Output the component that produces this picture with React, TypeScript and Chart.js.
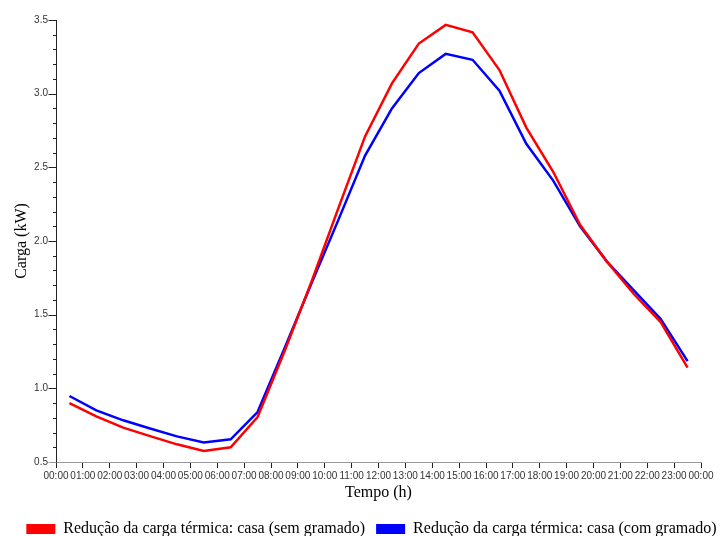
import React, { useEffect, useRef } from "react";
import { Chart, registerables } from "chart.js";

Chart.register(...registerables);

const hours = [0.5, 1.5, 2.5, 3.5, 4.5, 5.5, 6.5, 7.5, 8.5, 9.5, 10.5, 11.5, 12.5, 13.5, 14.5, 15.5, 16.5, 17.5, 18.5, 19.5, 20.5, 21.5, 22.5, 23.5];

const semGramado = [0.9, 0.81, 0.733, 0.676, 0.62, 0.575, 0.6, 0.805, 1.25, 1.72, 2.22, 2.71, 3.07, 3.34, 3.467, 3.417, 3.16, 2.77, 2.47, 2.11, 1.86, 1.64, 1.45, 1.14];

const comGramado = [0.948, 0.85, 0.783, 0.727, 0.674, 0.632, 0.654, 0.839, 1.27, 1.71, 2.14, 2.58, 2.9, 3.14, 3.27, 3.23, 3.02, 2.66, 2.41, 2.1, 1.86, 1.665, 1.47, 1.185];

const tickLabels = ["00:00", "01:00", "02:00", "03:00", "04:00", "05:00", "06:00", "07:00", "08:00", "09:00", "10:00", "11:00", "12:00", "13:00", "14:00", "15:00", "16:00", "17:00", "18:00", "19:00", "20:00", "21:00", "22:00", "23:00", "00:00"];

const seriesNames = ["Redução da carga térmica: casa (sem gramado)", "Redução da carga térmica: casa (com gramado)"];

const isMajor = (v: number) => Math.abs(v * 2 - Math.round(v * 2)) < 1e-6;

const yTicksPlugin = {
  id: "yTicksPlugin",
  afterDraw(chart: any) {
    const y = chart.scales.y;
    const ctx = chart.ctx;
    const x0 = Math.round(chart.chartArea.left) + 0.5;
    ctx.save();
    ctx.lineWidth = 1;
    for (const t of y.ticks) {
      const py = Math.round(y.getPixelForValue(t.value)) + 0.5;
      const len = isMajor(t.value) ? 8 : 3.5;
      ctx.strokeStyle = Math.abs(t.value - y.min) < 1e-6 ? "#999" : "#222";
      ctx.beginPath();
      ctx.moveTo(x0 - len, py);
      ctx.lineTo(x0, py);
      ctx.stroke();
    }
    ctx.restore();
  },
};

export default function App() {
  const ref = useRef<HTMLCanvasElement | null>(null);
  useEffect(() => {
    if (!ref.current) return;
    const chart = new Chart(ref.current, {
      type: "line",
      data: {
        datasets: [
          {
            label: seriesNames[0],
            data: hours.map((h, i) => ({ x: h, y: semGramado[i] })),
            borderColor: "#ff0000",
            backgroundColor: "#ff0000",
            borderWidth: 2.5,
            pointRadius: 0,
            tension: 0,
            yAxisID: "y",
          },
          {
            label: seriesNames[1],
            data: hours.map((h, i) => ({ x: h, y: comGramado[i] })),
            borderColor: "#0000ff",
            backgroundColor: "#0000ff",
            borderWidth: 2.5,
            pointRadius: 0,
            tension: 0,
            yAxisID: "y",
          },
        ],
      },
      options: {
        animation: false,
        responsive: true,
        maintainAspectRatio: false,
        layout: { padding: { top: 20, left: 15, right: 0, bottom: -11 } },
        plugins: {
          tooltip: { enabled: false },
          legend: {
            position: "bottom",
            labels: {
              boxWidth: 29,
              boxHeight: 10,
              padding: 11,
              color: "#000",
              font: { family: "'Liberation Serif', serif", size: 16 },
              generateLabels: (c: any) =>
                (Chart.defaults.plugins.legend.labels as any).generateLabels(c).map((l: any) => ({
                  ...l,
                  lineWidth: 0,
                  fillStyle: l.strokeStyle,
                })),
            },
          },
        },
        scales: {
          x: {
            type: "linear",
            min: 0,
            max: 24,
            afterFit: (s: any) => {
              s.height = 48;
            },
            ticks: {
              stepSize: 1,
              autoSkip: false,
              maxRotation: 0,
              minRotation: 0,
              padding: 2,
              color: "#333",
              font: { family: "'Liberation Sans', Arial, sans-serif", size: 10 },
              callback: (v: any) => tickLabels[Math.round(Number(v))] ?? "",
            },
            grid: { drawOnChartArea: false, drawTicks: true, tickLength: 6, color: "#222" },
            border: { display: true, color: "#999", width: 1 },
            title: {
              display: true,
              text: "Tempo (h)",
              color: "#000",
              font: { family: "'Liberation Serif', serif", size: 16 },
              padding: { top: 0, bottom: 7.4 },
            },
          },
          y: {
            type: "linear",
            position: "left",
            min: 0.5,
            max: 3.5,
            afterFit: (s: any) => {
              s.width = 41;
            },
            ticks: {
              stepSize: 0.1,
              autoSkip: false,
              padding: 8,
              color: "#333",
              font: { family: "'Liberation Sans', Arial, sans-serif", size: 10 },
              callback: (v: any) => (isMajor(Number(v)) ? Number(v).toFixed(1) : ""),
            },
            grid: { display: false, drawTicks: false },
            border: { display: true, color: "#222", width: 1 },
            title: {
              display: true,
              text: "Carga (kW)",
              color: "#000",
              font: { family: "'Liberation Serif', serif", size: 16 },
              padding: { top: -2.5, bottom: 0 },
            },
          },
          yR: {
            type: "linear",
            position: "right",
            display: true,
            afterFit: (s: any) => {
              s.width = 27;
            },
            ticks: { display: false },
            grid: { display: false, drawTicks: false },
            border: { display: false },
          },
        },
      },
      plugins: [yTicksPlugin],
    } as any);
    return () => chart.destroy();
  }, []);
  return (
    <div style={{ position: "absolute", left: 0, top: 0, width: 728, height: 536 }}>
      <canvas ref={ref} />
    </div>
  );
}
